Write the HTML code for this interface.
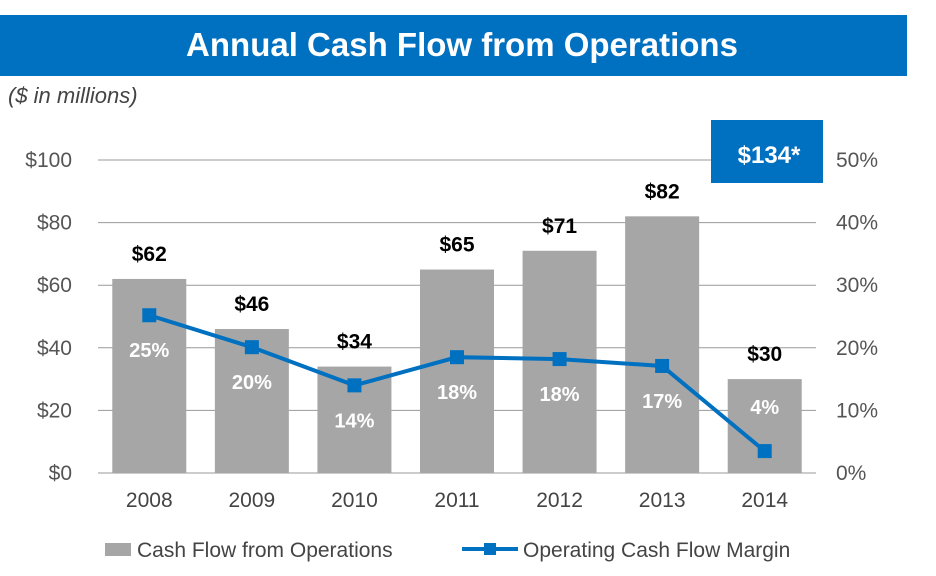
<!DOCTYPE html>
<html><head><meta charset="utf-8"><style>
body{margin:0;background:#fff;width:936px;height:571px;overflow:hidden;font-family:"Liberation Sans",Arial,sans-serif}
</style></head><body>
<svg id="chart" width="936" height="571" xmlns="http://www.w3.org/2000/svg" font-family="Liberation Sans, Arial, sans-serif">
<rect x="0" y="15" width="907" height="61" fill="#0070C0"/>
<text x="462" y="56" text-anchor="middle" font-size="33" font-weight="bold" fill="#fff">Annual Cash Flow from Operations</text>
<text x="8" y="103" font-size="22" font-style="italic" fill="#444">($ in millions)</text>
<g id="grid"></g><g id="bars"></g><g id="line"></g><g id="labels"></g>
<rect x="711" y="120" width="112" height="63" fill="#0070C0"/>
<text x="769" y="163" text-anchor="middle" font-size="24" font-weight="bold" fill="#fff">$134*</text>
<rect x="105" y="543" width="26" height="13" fill="#A6A6A6"/>
<text x="137" y="557" font-size="21" fill="#444">Cash Flow from Operations</text>
<line x1="462" y1="549" x2="518" y2="549" stroke="#0070C0" stroke-width="4"/>
<rect x="484" y="543" width="12" height="12" fill="#0070C0"/>
<text x="523" y="557" font-size="21" fill="#444">Operating Cash Flow Margin</text>
</svg>
<script>
const years=["2008","2009","2010","2011","2012","2013","2014"];
const cash=[62,46,34,65,71,82,30];
const margin=[25.2,20.1,14.0,18.5,18.2,17.1,3.5];
const marginLabels=["25%","20%","14%","18%","18%","17%","4%"];
const leftTicks=[0,20,40,60,80,100];
const rightTicks=[0,10,20,30,40,50];
const NS="http://www.w3.org/2000/svg";
const x0=98,x1=816,yTop=160,yBot=473;
const band=(x1-x0)/years.length;
const xc=i=>x0+band*(i+0.5);
const yL=v=>yBot-(v/100)*(yBot-yTop);
const yR=v=>yBot-(v/50)*(yBot-yTop);
function mk(tag,attrs,parent,txt){const e=document.createElementNS(NS,tag);for(const k in attrs)e.setAttribute(k,attrs[k]);if(txt!==undefined)e.textContent=txt;document.getElementById(parent).appendChild(e);return e;}
leftTicks.forEach((t,i)=>{
 const l=mk('line',{x1:x0,x2:x1,y1:yL(t),y2:yL(t),stroke:'#999','stroke-width':1},'grid');
 
 
 const a=mk('text',{x:72,y:yL(t)+7,'text-anchor':'end','font-size':21,fill:'#555'},'grid','$'+t);
 
 
 const b=mk('text',{x:836,y:yR(rightTicks[i])+7,'font-size':21,fill:'#555'},'grid',rightTicks[i]+'%');
 
 
});
const bw=74;
years.forEach((y,i)=>{
 const r=mk('rect',{x:xc(i)-bw/2,y:yL(cash[i]),width:bw,height:yBot-yL(cash[i]),fill:'#A6A6A6'},'bars');
 
 
 const v=mk('text',{x:xc(i),y:yL(cash[i])-18,'text-anchor':'middle','font-size':21,'font-weight':'bold',fill:'#000'},'labels','$'+cash[i]);
 
 
 const xl=mk('text',{x:xc(i),y:507,'text-anchor':'middle','font-size':21,fill:'#444'},'labels',y);
 
 
 const ml=mk('text',{x:xc(i),y:yR(margin[i])+(i==6?-37:42),'text-anchor':'middle','font-size':20,'font-weight':'bold',fill:'#fff'},'labels',marginLabels[i]);
 
 
});
const pl=mk('polyline',{points:years.map((y,i)=>xc(i)+','+yR(margin[i])).join(' '),fill:'none',stroke:'#0070C0','stroke-width':4},'line');


years.forEach((y,i)=>{
 const m=mk('rect',{x:xc(i)-7,y:yR(margin[i])-7,width:14,height:14,fill:'#0070C0'},'line');
 
 
});
</script>
</body></html>
